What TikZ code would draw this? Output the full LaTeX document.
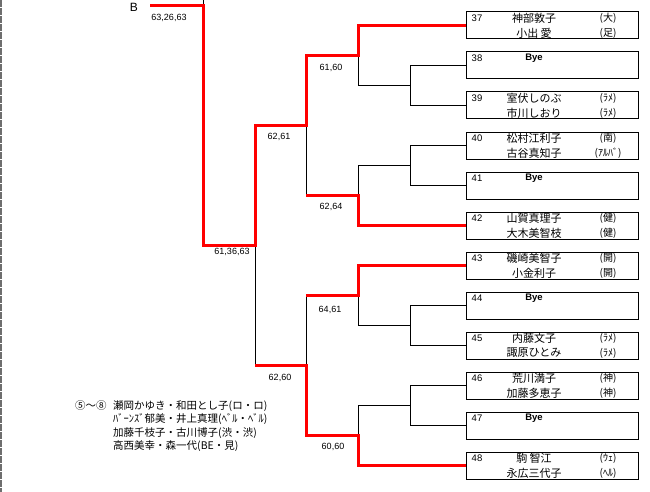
\documentclass[tikz,border=0pt]{standalone}
\usepackage{fontspec}
\setmainfont{Liberation Sans}
\newfontfamily\jp{Noto Sans CJK JP}
\usepackage{xcolor}
\definecolor{ColWin}{RGB}{255,0,0}
\definecolor{ColFrame}{RGB}{110,110,110}
\usepackage{tikz}
\tikzstyle{Box}=[draw=black,line width=1pt,minimum width=172pt,
minimum height=27pt,inner sep=0pt]
\tikzstyle{Edge}=[draw=black,line width=1pt]
\tikzstyle{EdgeW}=[draw=ColWin,line width=3pt]
\tikzstyle{Frame}=[draw=ColFrame,line width=1.2pt,dash pattern=on 7pt off 1pt]
\tikzstyle{NodeNum}=[inner sep=0pt,font=\fontsize{9.5}{9.5}\selectfont]
\tikzstyle{NodeName}=[inner sep=0pt,font=\jp\fontsize{11}{11}\selectfont]
\tikzstyle{NodeClub}=[inner sep=0pt,font=\jp\fontsize{10}{10}\selectfont]
\tikzstyle{NodeBye}=[inner sep=0pt,font=\bfseries\fontsize{9.5}{9.5}\selectfont]
\tikzstyle{NodeSc}=[inner sep=0pt,font=\fontsize{9}{9}\selectfont]
\tikzstyle{NodeNote}=[inner sep=0pt,anchor=west,font=\jp\fontsize{10.5}{10.5}\selectfont]

\begin{document}
\begin{tikzpicture}[x=1pt,y=-1pt]
        \useasboundingbox (0,0) rectangle (650,492);
        \coordinate (f1) at (1,0);
        \coordinate (f2) at (1,492);
        \draw[Frame] (f1) -- (f2);
        % entries
        \node[Box](b37)at(552,25.5){};
        \node[NodeNum](n37)at(477,18.5){37};
        \node[NodeName](p37a)at(534,18.5){神部敦子};
        \node[NodeName](p37b)at(534,33){小出\ 愛};
        \node[NodeClub](c37a)at(608,18.5){(大)};
        \node[NodeClub](c37b)at(608,33){(足)};
        \node[Box](b38)at(552,65.5){};
        \node[NodeNum](n38)at(477,58.5){38};
        \node[NodeBye](y38)at(534,58.5){Bye};
        \node[Box](b39)at(552,105.5){};
        \node[NodeNum](n39)at(477,98.5){39};
        \node[NodeName](p39a)at(534,98.5){室伏しのぶ};
        \node[NodeName](p39b)at(534,113){市川しおり};
        \node[NodeClub](c39a)at(608,98.5){(ﾗﾒ)};
        \node[NodeClub](c39b)at(608,113){(ﾗﾒ)};
        \node[Box](b40)at(552,145.5){};
        \node[NodeNum](n40)at(477,138.5){40};
        \node[NodeName](p40a)at(534,138.5){松村江利子};
        \node[NodeName](p40b)at(534,153){古谷真知子};
        \node[NodeClub](c40a)at(608,138.5){(南)};
        \node[NodeClub](c40b)at(608,153){(ｱﾙﾊﾞ)};
        \node[Box](b41)at(552,185.5){};
        \node[NodeNum](n41)at(477,178.5){41};
        \node[NodeBye](y41)at(534,178.5){Bye};
        \node[Box](b42)at(552,225.5){};
        \node[NodeNum](n42)at(477,218.5){42};
        \node[NodeName](p42a)at(534,218.5){山賀真理子};
        \node[NodeName](p42b)at(534,233){大木美智枝};
        \node[NodeClub](c42a)at(608,218.5){(健)};
        \node[NodeClub](c42b)at(608,233){(健)};
        \node[Box](b43)at(552,265.5){};
        \node[NodeNum](n43)at(477,258.5){43};
        \node[NodeName](p43a)at(534,258.5){磯崎美智子};
        \node[NodeName](p43b)at(534,273){小金利子};
        \node[NodeClub](c43a)at(608,258.5){(開)};
        \node[NodeClub](c43b)at(608,273){(開)};
        \node[Box](b44)at(552,305.5){};
        \node[NodeNum](n44)at(477,298.5){44};
        \node[NodeBye](y44)at(534,298.5){Bye};
        \node[Box](b45)at(552,345.5){};
        \node[NodeNum](n45)at(477,338.5){45};
        \node[NodeName](p45a)at(534,338.5){内藤文子};
        \node[NodeName](p45b)at(534,353){諏原ひとみ};
        \node[NodeClub](c45a)at(608,338.5){(ﾗﾒ)};
        \node[NodeClub](c45b)at(608,353){(ﾗﾒ)};
        \node[Box](b46)at(552,385.5){};
        \node[NodeNum](n46)at(477,378.5){46};
        \node[NodeName](p46a)at(534,378.5){荒川満子};
        \node[NodeName](p46b)at(534,393){加藤多恵子};
        \node[NodeClub](c46a)at(608,378.5){(神)};
        \node[NodeClub](c46b)at(608,393){(神)};
        \node[Box](b47)at(552,425.5){};
        \node[NodeNum](n47)at(477,418.5){47};
        \node[NodeBye](y47)at(534,418.5){Bye};
        \node[Box](b48)at(552,465.5){};
        \node[NodeNum](n48)at(477,458.5){48};
        \node[NodeName](p48a)at(534,458.5){駒\ 智江};
        \node[NodeName](p48b)at(534,473){永広三代子};
        \node[NodeClub](c48a)at(608,458.5){(ｳｪ)};
        \node[NodeClub](c48b)at(608,473){(ﾍﾙ)};
        % bracket points
        \coordinate(m3839)at(410,85.5);
        \coordinate(m4041)at(410,165.5);
        \coordinate(m4445)at(410,325.5);
        \coordinate(m4647)at(410,405.5);
        \coordinate(q1)at(358,55.5);
        \coordinate(q2)at(358,195.5);
        \coordinate(q3)at(358,295.5);
        \coordinate(q4)at(358,435.5);
        \coordinate(p2)at(306,195.5);
        \coordinate(p3)at(306,295.5);
        \coordinate(r1)at(306,125.5);
        \coordinate(r2)at(306,365.5);
        \coordinate(t1)at(255,245.5);
        \coordinate(u)at(255,365.5);
        \coordinate(w)at(203,6);
        \coordinate(wTop)at(203,0);
        \coordinate(bEnd)at(150,6);
        \draw[Edge](b38.west)-|(m3839);
        \draw[Edge](b39.west)-|(m3839);
        \draw[Edge](b40.west)-|(m4041);
        \draw[Edge](b41.west)-|(m4041);
        \draw[Edge](b44.west)-|(m4445);
        \draw[Edge](b45.west)-|(m4445);
        \draw[Edge](b46.west)-|(m4647);
        \draw[Edge](b47.west)-|(m4647);
        \draw[Edge](m3839)-|(q1);
        \draw[Edge](m4041)-|(q2);
        \draw[Edge](m4445)-|(q3);
        \draw[Edge](m4647)-|(q4);
        \draw[Edge](p2)--(r1);
        \draw[Edge](p3)--(r2);
        \draw[Edge](t1)--(u);
        \draw[Edge](w)--(wTop);
        \draw[EdgeW](b37.west)-|(q1)-|(r1)-|(t1)-|(w)--(bEnd);
        \draw[EdgeW](b42.west)-|(q2)--(p2);
        \draw[EdgeW](b43.west)-|(q3)--(p3);
        \draw[EdgeW](b48.west)-|(q4)-|(r2)--(u);
        % scores
        \node[font=\fontsize{12}{12}\selectfont,inner sep=0pt](B)at(134,7){B};
        \node[NodeSc](s1)at(169,18){63,26,63};
        \node[NodeSc](s2)at(232,252){61,36,63};
        \node[NodeSc](s3)at(279,137){62,61};
        \node[NodeSc](s4)at(331,68){61,60};
        \node[NodeSc](s5)at(331,207){62,64};
        \node[NodeSc](s6)at(280,378){62,60};
        \node[NodeSc](s7)at(330,310){64,61};
        \node[NodeSc](s8)at(333,447){60,60};
        % note
        \node[NodeNote](rk)at(75,406){⑤～⑧};
        \node[NodeNote](t1a)at(113,406){瀬岡かゆき・和田とし子(ロ・ロ)};
        \node[NodeNote](t2a)at(113,419.5){ﾊﾞｰﾝｽﾞ郁美・井上真理(ﾍﾞﾙ・ﾍﾞﾙ)};
        \node[NodeNote](t3a)at(113,433){加藤千枝子・古川博子(渋・渋)};
        \node[NodeNote](t4a)at(113,446.5){高西美幸・森一代(BE・見)};
    \end{tikzpicture}
\end{document}
